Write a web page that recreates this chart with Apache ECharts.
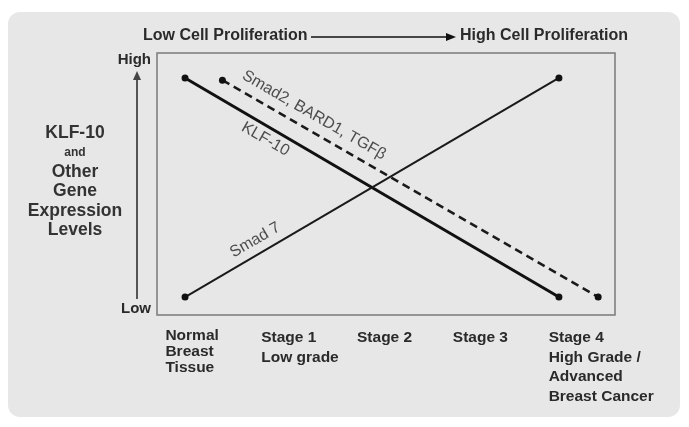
<!DOCTYPE html>
<html>
<head>
<meta charset="utf-8">
<script src="https://cdn.jsdelivr.net/npm/echarts@6/dist/echarts.min.js"></script>
<style>
  html, body { margin: 0; padding: 0; background: #fff; }
  #chart { width: 689px; height: 427px; }
</style>
</head>
<body>
<div id="chart"></div>
<script>
// categories along the x axis (stage index 0..4)
const stages = ['Normal\nBreast\nTissue', 'Stage 1\nLow grade', 'Stage 2', 'Stage 3', 'Stage 4\nHigh Grade /\nAdvanced\nBreast Cancer']
// y axis: 0 = low, 1 = high
const levelLabels = ['Low', 'High']
// series: [stage, level]
const klf10 = [[0, 1], [4, 0]]
const smad7 = [[0, 0], [4, 1]]
const smad2 = [[0.4, 0.99], [4.42, 0]]
// names written along the lines: [stage, level, text]
const lineNames = [
  [1.38, 0.83, 'Smad2, BARD1, TGFβ'],
  [0.86, 0.72, 'KLF-10'],
  [0.75, 0.26, 'Smad 7']
]
const nameAngles = [-30, -30, 30]

// where the tick labels sit (left aligned, a bit left of each stage)
const stageLabelPos = stages.map((s, i) => -0.21 + i * 1.025)
const levelLabelPos = [-0.055, 1.082]
const nearest = (arr, v) => {
  let best = 0
  arr.forEach((p, i) => { if (Math.abs(p - v) < Math.abs(arr[best] - v)) best = i })
  return best
}

const font = '"Liberation Sans", Arial, sans-serif'
const chart = echarts.init(document.getElementById('chart'))

chart.setOption({
  backgroundColor: '#fff',
  animation: false,
  grid: {
    left: 157, top: 53, right: 74, bottom: 112,
    show: true,
    backgroundColor: 'transparent',
    borderColor: '#7a7a7a',
    borderWidth: 1.5,
    outerBoundsMode: 'none'
  },
  xAxis: {
    type: 'value',
    min: -0.3,
    max: 4.6,
    axisLine: { show: false },
    axisTick: { show: false },
    splitLine: { show: false },
    axisLabel: {
      customValues: stageLabelPos,
      formatter: v => {
        const i = nearest(stageLabelPos, v)
        // first label is set tighter than the others in the original
        const st = i === 0 ? 't' : 'w'
        return stages[i].split('\n').map(s => '{' + st + '|' + s + '}').join('\n')
      },
      align: 'left',
      verticalAlign: 'top',
      margin: 13,
      color: '#2a2a2a',
      fontFamily: font,
      fontWeight: 'bold',
      fontSize: 15.5,
      rich: {
        t: { lineHeight: 16, fontSize: 15.5, fontWeight: 'bold', fontFamily: font, color: '#2a2a2a' },
        w: { lineHeight: 19.5, fontSize: 15.5, fontWeight: 'bold', fontFamily: font, color: '#2a2a2a' }
      }
    }
  },
  yAxis: {
    type: 'value',
    min: -0.082,
    max: 1.114,
    axisLine: { show: false },
    axisTick: { show: false },
    splitLine: { show: false },
    axisLabel: {
      customValues: levelLabelPos,
      formatter: v => levelLabels[nearest(levelLabelPos, v)],
      margin: 6,
      color: '#2a2a2a',
      fontFamily: font,
      fontWeight: 'bold',
      fontSize: 15
    }
  },
  graphic: [
    {
      type: 'rect', z: -10, silent: true,
      shape: { x: 8, y: 12, width: 672, height: 405, r: 12 },
      style: { fill: '#e7e7e7' }
    },
    // top proliferation caption
    {
      type: 'text', left: 143, top: 28,
      style: { text: 'Low Cell Proliferation', font: 'bold 16px ' + font, fill: '#2a2a2a' }
    },
    {
      type: 'line', shape: { x1: 311, y1: 37, x2: 452, y2: 37 },
      style: { stroke: '#111', lineWidth: 1.5 }
    },
    {
      type: 'polygon', shape: { points: [[446, 33], [456, 37], [446, 41]] },
      style: { fill: '#111' }
    },
    {
      type: 'text', left: 460, top: 28,
      style: { text: 'High Cell Proliferation', font: 'bold 16px ' + font, fill: '#2a2a2a' }
    },
    // vertical arrow
    {
      type: 'line', shape: { x1: 137, y1: 299, x2: 137, y2: 78 },
      style: { stroke: '#444', lineWidth: 1.8 }
    },
    {
      type: 'polygon', shape: { points: [[133, 80], [137, 71], [141, 80]] },
      style: { fill: '#444' }
    },
    // y axis title
    {
      type: 'text', x: 75, y: 123,
      style: {
        text: '{a|KLF-10}\n{b|and}\n{a|Other}\n{a|Gene}\n{a|Expression}\n{a|Levels}',
        align: 'center',
        rich: {
          a: { font: 'bold 17.5px ' + font, fill: '#333', lineHeight: 19.5, align: 'center' },
          b: { font: 'bold 12px ' + font, fill: '#333', lineHeight: 19.5, align: 'center' }
        }
      }
    }
  ],
  series: [
    {
      name: 'KLF-10', type: 'line', data: klf10,
      symbol: 'circle', symbolSize: 7,
      itemStyle: { color: '#111' },
      lineStyle: { color: '#111', width: 3 }
    },
    {
      name: 'Smad 7', type: 'line', data: smad7,
      symbol: 'circle', symbolSize: 7,
      itemStyle: { color: '#111' },
      lineStyle: { color: '#1a1a1a', width: 2 }
    },
    {
      name: 'Smad2, BARD1, TGFβ', type: 'line', data: smad2,
      symbol: 'circle', symbolSize: 7,
      itemStyle: { color: '#111' },
      lineStyle: { color: '#1a1a1a', width: 2.5, type: [8, 5] }
    },
    {
      name: 'line names', type: 'scatter', symbolSize: 0,
      data: lineNames.map((d, i) => ({
        value: d,
        label: { rotate: nameAngles[i] }
      })),
      label: {
        show: true,
        position: 'inside',
        formatter: p => p.value[2],
        color: '#262626',
        fontFamily: font,
        fontSize: 16
      }
    }
  ]
})
</script>
</body>
</html>
